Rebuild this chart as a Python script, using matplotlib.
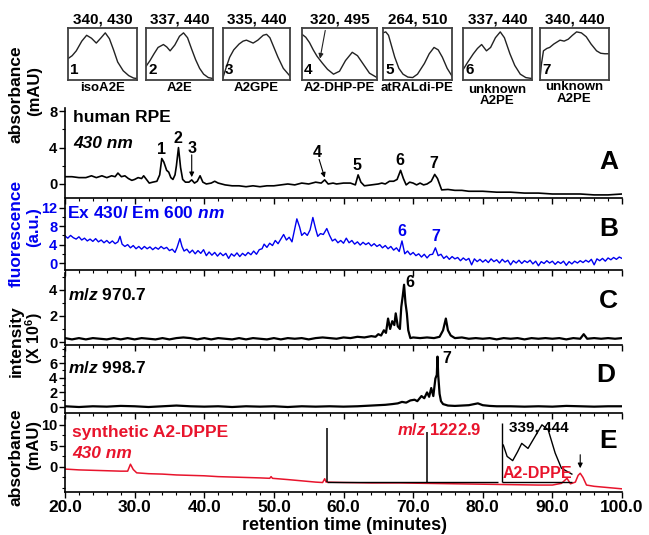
import numpy as np
import matplotlib
matplotlib.use('Agg')
import matplotlib.pyplot as plt
from matplotlib.ticker import MultipleLocator, FormatStrFormatter

plt.rcParams['font.family'] = ['Liberation Sans', 'DejaVu Sans']
plt.rcParams['font.weight'] = 'bold'
plt.rcParams['mathtext.fontset'] = 'custom'
plt.rcParams['mathtext.rm'] = 'Liberation Sans:bold'
plt.rcParams['mathtext.it'] = 'Liberation Sans:italic:bold'
plt.rcParams['mathtext.bf'] = 'Liberation Sans:bold'

BLUE = '#0000f0'
RED = '#e8142c'

# ---- chromatograms: (retention time, signal) ----
trace_a = [(20, 0.8), (21, 0.8), (22, 0.7), (23, 0.7), (23.8, 0.9), (24.5, 0.7), (25.3, 0.9), (26, 0.7),
           (26.7, 0.9), (27.2, 0.8), (27.6, 1.2), (28.1, 0.8), (28.6, 0.9), (29.1, 0.6), (29.6, 0.4),
           (30, 0.5), (30.5, 0.7), (31, 0.6), (31.3, 0.9), (31.7, 0.5), (32.1, 0.1), (32.6, 0.2),
           (33.2, 0.3), (33.6, 1.0), (33.9, 2.8), (34.2, 2.4), (34.6, 1.5), (34.9, 1.3), (35.2, 0.7),
           (35.5, 0.5), (35.8, 1.0), (36.0, 2.0), (36.3, 4.0), (36.6, 1.8), (36.9, 0.5), (37.3, 0.2),
           (37.8, 0.2), (38.2, 0.45), (38.6, 0.1), (39.0, 0.3), (39.4, 0.9), (39.8, 0.2), (40.3, 0.0),
           (41, 0.1), (41.5, 0.3), (42, 0.1), (43, -0.1), (44, -0.2), (45, -0.2), (46, -0.3), (47, -0.2),
           (48, -0.3), (49, -0.2), (50, -0.2), (51, -0.1), (52, 0.0), (53, -0.1), (54, 0.1), (55, 0.0),
           (56, 0.2), (56.8, 0.1), (57.3, 0.45), (57.8, 0.0), (58.5, 0.1), (59, 0.0), (60, 0.1), (61, 0.1),
           (61.7, -0.1), (62.1, 1.0), (62.5, 0.2), (63, -0.2), (64, -0.1), (65, 0.0), (65.5, 0.1), (66, 0.0),
           (66.6, 0.3), (67.2, 0.3), (67.7, 0.5), (68.2, 1.5), (68.6, 0.6), (69, -0.1), (69.5, 0.2),
           (70, 0.1), (70.5, -0.1), (71, 0.1), (71.5, -0.1), (72, 0.0), (72.6, 0.3), (73.1, 1.05),
           (73.5, 0.6), (74.1, -0.65), (75, -0.6), (76, -0.7), (77, -0.7), (78, -0.8), (80, -0.8),
           (82, -0.9), (84, -0.9), (86, -1.0), (88, -1.0), (90, -1.1), (92, -1.1), (94, -1.1), (96, -1.2),
           (98, -1.2), (100, -1.1)]

trace_b = [(20.0, 5.9), (20.4, 5.4), (20.8, 6.0), (21.2, 5.5), (21.6, 5.2), (22.0, 5.7), (22.4, 5.0), (22.8, 5.4),
           (23.2, 4.8), (23.6, 5.2), (24.0, 4.7), (24.4, 5.3), (24.8, 4.6), (25.2, 5.0), (25.6, 4.4), (26.0, 4.9),
           (26.4, 4.3), (26.8, 4.8), (27.2, 4.2), (27.6, 4.6), (27.9, 5.8), (28.2, 4.1), (28.6, 3.6), (29.0, 4.0),
           (29.4, 3.3), (29.8, 3.8), (30.2, 3.1), (30.6, 3.6), (31.0, 3.0), (31.4, 3.6), (31.8, 3.1), (32.2, 3.5),
           (32.6, 2.9), (33.0, 3.4), (33.4, 3.0), (33.8, 3.6), (34.2, 3.1), (34.6, 3.4), (35.0, 2.7), (35.4, 3.0),
           (35.8, 2.3), (36.1, 3.4), (36.5, 5.3), (36.8, 3.6), (37.1, 2.6), (37.5, 3.0), (37.9, 2.2), (38.3, 2.8),
           (38.7, 2.0), (39.1, 2.7), (39.5, 2.1), (39.9, 2.9), (40.3, 1.6), (40.7, 2.4), (41.1, 1.7), (41.5, 2.3),
           (41.9, 1.5), (42.3, 2.2), (42.7, 1.6), (43.1, 2.1), (43.5, 1.0), (43.9, 2.0), (44.3, 1.5), (44.7, 2.2),
           (45.1, 1.4), (45.5, 2.1), (45.9, 1.6), (46.3, 2.3), (46.7, 1.8), (47.1, 2.6), (47.5, 1.9), (47.9, 2.9),
           (48.3, 3.1), (48.6, 4.1), (49.0, 3.4), (49.4, 4.3), (49.8, 3.8), (50.2, 4.9), (50.6, 4.2), (51.0, 5.2),
           (51.4, 6.2), (51.8, 5.0), (52.2, 5.6), (52.6, 4.6), (53.0, 7.5), (53.3, 9.6), (53.7, 7.8), (54.0, 6.0),
           (54.4, 6.6), (54.8, 6.0), (55.2, 7.2), (55.6, 9.9), (56.0, 7.4), (56.3, 5.8), (56.7, 6.4), (57.1, 6.2),
           (57.6, 7.5), (58.0, 6.0), (58.4, 4.8), (58.8, 5.2), (59.2, 4.4), (59.6, 4.9), (60.0, 4.3), (60.4, 5.4),
           (60.8, 4.4), (61.2, 4.9), (61.6, 4.1), (62.0, 4.6), (62.4, 3.9), (62.8, 4.5), (63.2, 4.0), (63.6, 4.4),
           (64.0, 3.7), (64.4, 4.2), (64.8, 3.6), (65.2, 4.0), (65.6, 3.3), (66.0, 3.8), (66.4, 3.1), (66.8, 3.6),
           (67.2, 2.8), (67.6, 3.3), (68.0, 2.5), (68.4, 4.8), (68.8, 2.0), (69.2, 2.6), (69.6, 1.8), (70.0, 2.3),
           (70.4, 1.6), (70.8, 2.0), (71.2, 1.3), (71.6, 1.9), (72.0, 1.1), (72.4, 1.8), (72.8, 1.9), (73.2, 3.3),
           (73.6, 1.6), (74.0, 1.9), (74.4, 1.0), (74.8, 1.5), (75.2, 0.8), (75.6, 1.4), (76.0, 0.9), (76.4, 1.2),
           (76.8, 0.5), (77.2, 1.1), (77.6, 0.6), (78.0, 1.0), (78.4, -0.4), (78.8, 0.9), (79.2, 0.3), (79.6, 0.8),
           (80.0, 0.2), (80.4, 0.7), (80.8, 0.1), (81.2, 0.9), (81.6, 0.3), (82.0, 0.7), (82.4, 0.0), (82.8, 0.8),
           (83.2, 0.2), (83.6, 0.6), (84.0, -0.4), (84.4, 0.5), (84.8, 0.0), (85.2, 0.6), (85.6, -0.1), (86.0, 0.5),
           (86.4, 0.1), (86.8, 0.6), (87.2, -0.2), (87.6, 0.4), (88.0, -0.6), (88.4, 0.3), (88.8, -0.1), (89.2, 0.5),
           (89.6, 0.0), (90.0, 0.4), (90.4, -0.3), (90.8, 0.3), (91.2, -0.1), (91.6, 0.4), (92.0, -0.5), (92.4, 0.3),
           (92.8, -0.2), (93.2, 0.4), (93.6, 0.0), (94.0, 0.5), (94.4, 0.1), (94.8, 0.6), (95.2, 0.2), (95.6, 0.8),
           (96.0, -0.4), (96.4, 0.9), (96.8, 0.5), (97.2, 1.0), (97.6, 0.4), (98.0, 1.1), (98.4, 0.7), (98.8, 1.2),
           (99.2, 0.8), (99.6, 1.3), (100.0, 1.0)]

trace_c = [(20, 0.3), (21, 0.2), (22, 0.3), (23, 0.2), (24, 0.3), (25, 0.25), (26, 0.2), (27, 0.3), (28, 0.2),
           (29, 0.3), (30, 0.2), (31, 0.3), (32, 0.25), (33, 0.2), (34, 0.3), (35, 0.2), (36, 0.3), (37, 0.35),
           (38, 0.3), (39, 0.2), (40, 0.3), (41, 0.2), (42, 0.3), (43, 0.25), (44, 0.2), (45, 0.3), (46, 0.2),
           (47, 0.3), (48, 0.25), (49, 0.2), (50, 0.3), (51, 0.2), (52, 0.3), (53, 0.25), (54, 0.3), (55, 0.2),
           (56, 0.3), (57, 0.35), (58, 0.3), (59, 0.25), (60, 0.35), (61, 0.3), (62, 0.4), (63, 0.35), (64, 0.45),
           (64.6, 0.4), (65.0, 0.6), (65.4, 0.5), (65.8, 0.9), (66.1, 0.7), (66.4, 1.8), (66.7, 1.0), (67.0, 1.6),
           (67.3, 1.3), (67.5, 2.2), (67.8, 1.2), (68.1, 1.0), (68.3, 2.7), (68.5, 3.5), (68.7, 4.4), (68.9, 3.0),
           (69.1, 2.2), (69.3, 0.9), (69.6, 0.3), (70, 0.35), (71, 0.3), (72, 0.35), (73, 0.3), (73.8, 0.4),
           (74.3, 0.9), (74.7, 1.8), (75.0, 0.9), (75.4, 0.5), (76, 0.3), (77, 0.35), (78, 0.25), (79, 0.3),
           (80, 0.25), (81, 0.3), (82, 0.2), (83, 0.3), (84, 0.25), (85, 0.3), (86, 0.2), (87, 0.3), (88, 0.25),
           (89, 0.3), (90, 0.25), (91, 0.3), (92, 0.2), (93, 0.3), (94, 0.25), (94.5, 0.6), (95, 0.25), (96, 0.3),
           (97, 0.25), (98, 0.3), (99, 0.25), (100, 0.3)]

trace_d = [(20, 0.1), (22, 0.0), (24, 0.1), (26, 0.05), (28, 0.15), (30, 0.1), (32, 0.0), (34, 0.1), (36, 0.2),
           (38, 0.1), (40, 0.05), (42, 0.1), (44, 0.0), (46, 0.1), (48, 0.05), (50, 0.1), (52, 0.0), (54, 0.1),
           (56, 0.05), (58, 0.1), (60, 0.05), (62, 0.1), (64, 0.2), (65, 0.25), (66, 0.3), (67, 0.4), (67.8, 0.5),
           (68.4, 0.7), (69, 0.6), (69.6, 0.9), (70.2, 1.0), (70.6, 0.8), (71.2, 1.5), (71.6, 1.2), (72.0, 2.0),
           (72.3, 1.4), (72.6, 2.6), (72.9, 1.5), (73.2, 3.9), (73.4, 4.4), (73.5, 6.9), (73.6, 4.4), (73.8, 1.8),
           (74.0, 0.8), (74.3, 0.4), (75, 0.2), (76, 0.15), (77, 0.2), (78, 0.25), (79.3, 0.5), (80, 0.25),
           (81, 0.15), (82, 0.1), (84, 0.1), (86, 0.05), (88, 0.1), (90, 0.05), (92, 0.15), (94, 0.1), (96, 0.05),
           (98, 0.1), (100, 0.1)]

trace_e = [(20, -0.5), (22, -0.7), (24, -0.8), (26, -0.9), (28, -1.0), (29.0, -1.0), (29.4, 0.65), (29.8, -0.6),
           (30.3, -1.4), (32, -1.6), (34, -1.7), (36, -1.9), (38, -2.0), (40, -2.1), (42, -2.3), (44, -2.4),
           (46, -2.5), (48, -2.6), (49.4, -2.7), (49.6, -2.3), (49.8, -2.7), (52, -3.0), (54, -3.3), (56, -3.6),
           (57.0, -3.7), (57.3, -2.8), (57.5, -3.6), (60, -3.7), (64, -3.8), (68, -3.8), (72, -3.9), (76, -4.0),
           (80, -4.1), (84, -4.2), (88, -4.3), (90, -4.3), (91.3, -3.9), (92.1, -2.7), (92.6, -4.0), (93.3, -3.6),
           (93.7, -2.0), (94.0, -1.5), (94.4, -2.5), (94.9, -4.3), (96, -4.6), (98, -4.9), (100, -5.2)]

# mass spectrum inset in panel E (drawn on the time axis)
ms_peak_t = [57.6, 72.0]
ms_peak_top = [9.3, 8.3]
ms_base = -3.6
ms_span = (57.6, 82.2)

# UV spectrum inset of synthetic A2-DPPE
uv_frame_t = (82.8, 92.8)
uv_frame_top = 10.5
uv_t = [82.95, 83.5, 84.3, 85.0, 85.6, 86.5, 87.5, 88.5, 89.4, 90.4, 91.3, 92.8]
uv_v = [5.2, 2.5, 1.5, 3.6, 5.6, 4.4, 7.2, 10.0, 8.8, 3.3, -0.3, -1.7]

# ---- small UV spectra at top (normalised wavelength, absorbance) ----
spec_x = [
    [0, 0.06, 0.12, 0.2, 0.27, 0.34, 0.41, 0.48, 0.54, 0.6, 0.66, 0.72, 0.8, 0.88, 0.95, 1.0],
    [0, 0.06, 0.12, 0.18, 0.26, 0.31, 0.36, 0.43, 0.5, 0.56, 0.62, 0.68, 0.74, 0.8, 0.86, 0.93, 1.0],
    [0, 0.05, 0.1, 0.16, 0.24, 0.3, 0.35, 0.4, 0.45, 0.52, 0.6, 0.65, 0.7, 0.76, 0.82, 0.9, 1.0],
    [0, 0.05, 0.1, 0.15, 0.2, 0.27, 0.34, 0.42, 0.5, 0.58, 0.67, 0.74, 0.82, 0.9, 1.0],
    [0, 0.04, 0.08, 0.12, 0.17, 0.23, 0.29, 0.36, 0.43, 0.5, 0.6, 0.67, 0.74, 0.8, 0.86, 0.93, 1.0],
    [0, 0.07, 0.15, 0.21, 0.27, 0.34, 0.4, 0.47, 0.54, 0.6, 0.68, 0.75, 0.83, 0.91, 1.0],
    [0, 0.02, 0.05, 0.1, 0.14, 0.2, 0.29, 0.35, 0.41, 0.47, 0.53, 0.6, 0.67, 0.74, 0.82, 0.88, 0.94, 1.0],
]
spec_y = [
    [0.42, 0.48, 0.58, 0.78, 0.9, 0.84, 0.74, 0.85, 0.95, 0.83, 0.6, 0.35, 0.17, 0.07, 0.02, 0.01],
    [0.26, 0.38, 0.52, 0.65, 0.71, 0.66, 0.58, 0.7, 0.88, 0.95, 0.85, 0.62, 0.4, 0.22, 0.1, 0.03, 0.01],
    [0.03, 0.25, 0.45, 0.6, 0.72, 0.78, 0.8, 0.77, 0.74, 0.8, 0.9, 0.92, 0.85, 0.65, 0.45, 0.22, 0.06],
    [0.92, 0.86, 0.75, 0.6, 0.47, 0.33, 0.2, 0.1, 0.16, 0.38, 0.55, 0.48, 0.3, 0.12, 0.03],
    [0.95, 0.97, 0.9, 0.7, 0.45, 0.22, 0.1, 0.04, 0.03, 0.1, 0.32, 0.52, 0.65, 0.6, 0.45, 0.22, 0.06],
    [0.19, 0.35, 0.52, 0.63, 0.71, 0.58, 0.65, 0.85, 0.97, 0.85, 0.52, 0.28, 0.1, 0.03, 0.01],
    [0.0, 0.3, 0.58, 0.63, 0.65, 0.72, 0.8, 0.78, 0.82, 0.9, 0.97, 0.95, 0.87, 0.72, 0.58, 0.53, 0.52, 0.52],
]
spec_lambda = ['340, 430', '337, 440', '335, 440', '320, 495', '264, 510', '337, 440', '340, 440']
spec_names = ['isoA2E', 'A2E', 'A2GPE', 'A2-DHP-PE', 'atRALdi-PE', 'unknown\nA2PE', 'unknown\nA2PE']

W, H = 649, 535
fig = plt.figure(figsize=(W / 100, H / 100), dpi=100)


def px_axes(x0, y0, x1, y1):
    return fig.add_axes([x0 / W, 1 - y1 / H, (x1 - x0) / W, (y1 - y0) / H])


def ptext(x, y, s, **kw):
    kw.setdefault('ha', 'left')
    kw.setdefault('va', 'center')
    kw.setdefault('fontsize', 12.5)
    fig.text(x / W, 1 - y / H, s, **kw)


# ---- top spectra boxes ----
box_x = [(68, 137), (146, 213), (223, 290), (302, 377), (383, 452), (463, 532), (540, 609)]
for i, (x0, x1) in enumerate(box_x):
    ax = px_axes(x0, 28, x1, 80)
    ax.plot(spec_x[i], spec_y[i], color='#222222', lw=1.0)
    ax.set_xlim(0, 1)
    ax.set_ylim(-0.02, 1.05)
    ax.set_xticks([])
    ax.set_yticks([])
    for s in ax.spines.values():
        s.set_linewidth(1.3)
        s.set_color('#404040')
    ax.text(0.03, 0.05, str(i + 1), transform=ax.transAxes, fontsize=11, ha='left', va='bottom')
    if i == 3:
        ax.annotate('', xy=(0.24, 0.42), xytext=(0.31, 1.0),
                    arrowprops=dict(arrowstyle='-|>', lw=0.8, color='#222222', mutation_scale=7,
                                    shrinkA=0, shrinkB=0))
    xc = (x0 + x1) / 2
    ptext(xc, 19, spec_lambda[i], ha='center', fontsize=11)
    if i == 5:
        ptext(xc, 84, spec_names[i], ha='center', va='top', fontsize=9.5, linespacing=0.85)
    elif i == 6:
        ptext(xc, 81, spec_names[i], ha='center', va='top', fontsize=9.5, linespacing=1.05)
    else:
        ptext(xc, 88, spec_names[i], ha='center', fontsize=9.5)

# ---- chromatogram panels ----
rows = [(108, 198), (200, 270), (273, 345), (348, 413), (416, 492)]
ylims = [(-1.54, 8.35), (-1.52, 13.7), (-0.23, 5.3), (-0.82, 8.08), (-5.95, 12.1)]
yticks = [[0, 4, 8], [0, 4, 8, 12], [0, 2, 4], [0, 2, 4, 6], [0, 5, 10]]
yminor = [2, 2, 1, 1, 2.5]
traces = [trace_a, trace_b, trace_c, trace_d, trace_e]
colors = ['black', BLUE, 'black', 'black', RED]
widths = [1.2, 1.0, 1.6, 1.6, 1.1]

axes = []
for k, (y0, y1) in enumerate(rows):
    ax = px_axes(65, y0, 622, y1)
    t, v = np.array(traces[k]).T
    ax.plot(t, v, color=colors[k], lw=widths[k])
    ax.set_xlim(20, 100)
    ax.set_ylim(*ylims[k])
    ax.patch.set_alpha(0)
    ax.spines[['top', 'right']].set_visible(False)
    ax.spines[['left', 'bottom']].set_linewidth(1.2)
    ax.xaxis.set_major_locator(MultipleLocator(10))
    ax.xaxis.set_minor_locator(MultipleLocator(2))
    ax.set_yticks(yticks[k])
    ax.yaxis.set_minor_locator(MultipleLocator(yminor[k]))
    ax.tick_params(which='major', direction='out', length=4, width=1.0, labelsize=10.5, pad=1.5)
    ax.tick_params(which='minor', direction='out', length=2.5, width=0.8)
    if k < 4:
        ax.tick_params(labelbottom=False)
    axes.append(ax)

axA, axB, axC, axD, axE = axes
axB.tick_params(axis='y', labelcolor=BLUE)
axE.xaxis.set_major_formatter(FormatStrFormatter('%.1f'))
axE.tick_params(axis='x', labelsize=12.5, pad=2)

arrow = dict(arrowstyle='-|>', lw=0.8, color='black', mutation_scale=7, shrinkA=0, shrinkB=0)

# panel A peak labels
for lab, tt, vv in [('1', 33.8, 3.8), ('2', 36.2, 5.05), ('5', 61.9, 2.0), ('6', 68.1, 2.6), ('7', 73.0, 2.3)]:
    axA.text(tt, vv, lab, ha='center', va='center', fontsize=11.5)
axA.text(38.2, 3.95, '3', ha='center', va='center', fontsize=11.5)
axA.annotate('', xy=(38.2, 0.75), xytext=(38.2, 3.2), arrowprops=arrow)
axA.text(56.3, 3.5, '4', ha='center', va='center', fontsize=11.5)
axA.annotate('', xy=(57.3, 0.7), xytext=(56.5, 2.7), arrowprops=arrow)

# panel B, C, D peak labels
axB.text(68.4, 6.9, '6', ha='center', va='center', fontsize=11.5, color=BLUE)
axB.text(73.2, 5.8, '7', ha='center', va='center', fontsize=11.5, color=BLUE)
axC.text(69.6, 4.6, '6', ha='center', va='center', fontsize=11.5)
axD.text(74.8, 6.7, '7', ha='center', va='center', fontsize=11.5)

# panel E insets
axE.vlines(ms_peak_t, ms_base, ms_peak_top, color='black', lw=1.1)
axE.hlines(ms_base, *ms_span, color='black', lw=1.0)
axE.vlines(uv_frame_t[0], ms_base, uv_frame_top, color='black', lw=1.0)
axE.hlines(ms_base, *uv_frame_t, color='black', lw=1.0)
axE.plot(uv_t, uv_v, color='black', lw=1.0)
axE.annotate('', xy=(94.0, -0.3), xytext=(94.0, 2.9), arrowprops=arrow)

# in-panel texts
ptext(73, 118, 'human RPE')
ptext(73, 143, '430 nm', style='italic')
ptext(67, 213, 'Ex 430/ Em 600 $nm$', color=BLUE)
ptext(68, 295, '$m/z$ 970.7')
ptext(68, 368, '$m/z$ 998.7')
ptext(72, 432, 'synthetic A2-DPPE', color=RED)
ptext(72, 453, '430 nm', style='italic', color=RED)
ptext(439, 430, '$m/z$ 1222.9', ha='center', color=RED, fontsize=12)
ptext(539, 428, '339, 444', ha='center', fontsize=11)
ptext(537, 474, 'A2-DPPE', ha='center', color=RED, fontsize=11.5)

for lab, xx, yy in [('A', 609, 162), ('B', 609, 229), ('C', 608, 301), ('D', 606, 375), ('E', 608, 441)]:
    ptext(xx, yy, lab, ha='center', fontsize=19)

# axis titles
ptext(16, 94, 'absorbance', ha='center', rotation=90)
ptext(35, 91, '(mAU)', ha='center', rotation=90, fontsize=12)
ptext(16, 233, 'fluorescence', ha='center', rotation=90, color=BLUE)
ptext(34, 227, '(a.u.)', ha='center', rotation=90, color=BLUE, fontsize=12)
ptext(16, 341, 'intensity', ha='center', rotation=90)
ptext(34, 338, '(X 10$^{6}$)', ha='center', rotation=90, fontsize=11.5)
ptext(16, 457, 'absorbance', ha='center', rotation=90)
ptext(34, 445, '(mAU)', ha='center', rotation=90, fontsize=12)
ptext(345, 525, 'retention time (minutes)', ha='center', fontsize=13)

fig.savefig('out.png', dpi=100)
